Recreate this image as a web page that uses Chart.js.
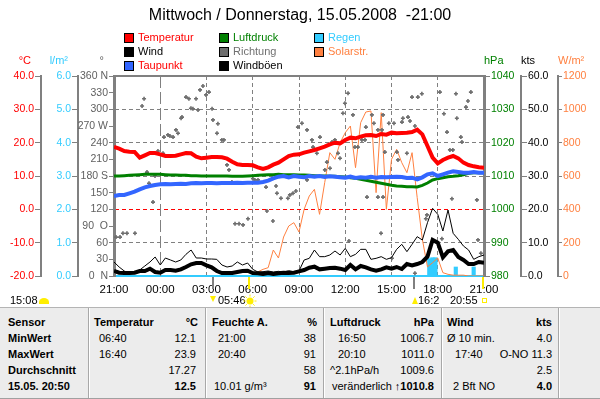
<!DOCTYPE html>
<html>
<head>
<meta charset="utf-8">
<title>Wetter 15.05.2008</title>
<script src="https://cdn.jsdelivr.net/npm/chart.js@4.4.1/dist/chart.umd.min.js"></script>
<style>
  body { margin: 0; background: #fff; }
  #chartBox { width: 600px; height: 307px; }
  #stats { position: relative; width: 600px; height: 92px; background: #ececec; border-top: 1px solid #b4b4b4; border-bottom: 1px solid #a0a0a0; box-sizing: border-box; font: 11px "Liberation Sans", Arial, sans-serif; color: #000; overflow: hidden; }
  #stats .sep { position: absolute; top: 0; bottom: 0; width: 1px; background: #a8a8a8; border-right: 1px solid #fff; }
  #stats span { position: absolute; line-height: 16px; white-space: nowrap; }
  #stats .b { font-weight: bold; }
</style>
</head>
<body>
<div id="chartBox"><canvas id="wx" width="600" height="307"></canvas></div>
<div id="stats"></div>
<script>
const F = '"Liberation Sans", Arial, sans-serif';
Chart.defaults.font.family = F;
Chart.defaults.font.size = 11;
Chart.defaults.color = '#000';

// values every 20 minutes, 21:00 (Wed) .. 21:00 (Thu)
const stepMin = 20;
const timeLabels = ['21:00', '00:00', '03:00', '06:00', '09:00', '12:00', '15:00', '18:00', '21:00'];
const dirLabels = ['0  N', '30', '60', '90  O', '120', '150', '180 S', '210', '240', '270 W', '300', '330', '360 N'];

const tempC = [18.7, 18.2, 17.5, 17.3, 17.2, 15.5, 16.2, 16.9, 16.9, 16.5,
  16.0, 16.0, 16.1, 16.5, 16.9, 16.8, 15.8, 15.3, 15.5, 15.7,
  15.7, 15.6, 15.2, 14.3, 13.5, 13.3, 13.3, 13.2, 12.6, 12.1,
  12.6, 13.4, 14.0, 15.0, 16.0, 16.4, 16.5, 17.0, 17.4, 17.8,
  18.3, 18.8, 19.5, 20.0, 19.8, 20.8, 21.5, 21.3, 21.8, 22.2,
  22.3, 22.0, 22.6, 22.4, 23.0, 22.8, 22.9, 23.0, 23.2, 23.9,
  22.5, 19.0, 15.5, 13.8, 14.8, 15.5, 16.0, 15.3, 14.0, 13.3,
  12.9, 12.6, 12.5];

const dewC = [4.0, 4.3, 4.3, 4.8, 5.3, 6.0, 6.6, 7.0, 7.3, 7.5,
  7.6, 7.5, 7.6, 7.7, 7.6, 7.8, 7.9, 7.8, 7.9, 7.9,
  7.8, 7.9, 7.9, 7.9, 8.0, 7.9, 8.0, 8.0, 8.0, 8.2,
  8.6, 9.3, 9.8, 10.0, 9.6, 10.0, 9.8, 9.6, 10.0, 9.8,
  10.0, 9.7, 9.9, 9.8, 9.6, 9.5, 9.8, 9.4, 9.6, 9.5,
  9.8, 9.5, 9.7, 9.6, 9.7, 9.8, 9.7, 9.4, 9.5, 9.0,
  9.6, 10.5, 10.8, 10.0, 10.5, 11.0, 11.4, 11.2, 11.0, 11.0,
  11.2, 11.0, 11.0];

const pressHpa = [1010.0, 1010.0, 1010.1, 1010.2, 1010.3, 1010.4, 1010.5, 1010.5, 1010.5, 1010.5,
  1010.4, 1010.3, 1010.3, 1010.2, 1010.2, 1010.1, 1010.1, 1010.0, 1010.0, 1010.0,
  1010.0, 1010.0, 1010.0, 1009.9, 1009.9, 1009.9, 1010.0, 1010.1, 1010.2, 1010.3,
  1010.4, 1010.4, 1010.5, 1010.4, 1010.4, 1010.4, 1010.3, 1010.3, 1010.2, 1010.1,
  1010.0, 1010.0, 1009.9, 1009.9, 1009.8, 1009.7, 1009.5, 1009.3, 1009.0, 1008.7,
  1008.4, 1008.1, 1007.8, 1007.5, 1007.2, 1007.0, 1006.9, 1006.8, 1006.8, 1006.7,
  1007.2, 1007.9, 1008.8, 1009.2, 1009.5, 1009.8, 1009.9, 1010.1, 1010.4, 1010.8,
  1011.0, 1011.0, 1011.0];

const windKts = [1.5, 1.0, 0.9, 0.9, 1.0, 1.5, 1.5, 2.2, 1.2, 1.0,
  1.8, 1.8, 1.6, 2.0, 2.7, 3.5, 3.9, 3.9, 3.2, 2.6,
  1.5, 0.9, 0.9, 0.9, 1.2, 1.5, 1.6, 0.9, 0.8, 0.6,
  0.9, 0.6, 0.8, 1.0, 0.9, 1.0, 1.4, 1.8, 2.5, 2.8,
  2.0, 2.2, 2.4, 2.5, 2.2, 1.8, 3.3, 2.0, 3.0, 2.6,
  2.0, 1.6, 2.0, 2.6, 2.2, 2.7, 2.1, 3.6, 3.2, 3.6,
  4.2, 5.8, 10.8, 10.0, 5.6, 7.4, 7.8, 5.7, 4.8, 3.6,
  3.6, 4.2, 4.0];

const gustKts = [4.2, 2.7, 1.5, 0.9, 0.9, 1.8, 3.0, 4.2, 5.7, 3.3,
  5.4, 4.8, 4.2, 4.8, 6.5, 7.8, 5.4, 5.4, 5.1, 5.1,
  5.0, 3.3, 2.7, 3.0, 4.2, 3.3, 3.9, 2.0, 1.2, 1.3,
  1.5, 1.2, 1.4, 1.2, 1.6, 1.3, 1.5, 4.8, 5.3, 7.8,
  5.8, 5.8, 6.3, 7.5, 6.3, 8.3, 5.8, 6.5, 8.0, 8.0,
  5.0, 5.3, 5.8, 5.0, 5.5, 8.0, 9.5, 7.3, 9.5, 11.8,
  10.8, 16.0, 20.3, 18.5, 13.5, 19.8, 12.8, 11.0, 9.0, 7.8,
  5.0, 5.8, 6.3];

const solarWm2 = [null, null, null, null, null, null, null, null, null, null,
  null, null, null, null, null, null, null, null, null, null,
  null, null, null, null, null, null, null, 10, 25, 40,
  50, 156, 108, 234, 300, 320, 264, 400, 480, 520,
  370, 560, 740, 700, 800, 860, 900, 650, 920, 984,
  990, 500, 980, 400, 700, 760, 680, 620, 740, 470,
  220, 55, 80, 108, 20, 10, 5, 5, 5, 0,
  0, 0, 0];

const rainHours = [20.45, 20.65, 20.85, 22.17, 23.33];
const rainLm2 = [0.52, 0.55, 0.55, 0.27, 0.27];

const dirHours = [0.13, 0.39, 0.58, 0.84, 1.36, 1.82, 1.95, 2.14, 2.27, 2.53,
  2.66, 2.85, 3.18, 3.24, 3.50, 3.63, 3.83, 4.02, 4.15, 4.35,
  4.41, 4.67, 4.86, 5.32, 4.99, 5.12, 5.45, 5.58, 5.77, 5.97,
  6.16, 6.36, 6.42, 6.74, 6.68, 7.00, 7.13, 7.33, 7.46, 7.65,
  7.85, 8.11, 8.37, 8.69, 9.01, 9.14, 9.34, 9.86, 9.92, 10.31,
  10.51, 10.57, 10.83, 11.28, 11.41, 11.61, 11.80, 11.93, 12.19, 12.52,
  12.52, 12.84, 12.91, 13.16, 13.36, 13.68, 13.81, 14.01, 14.14, 14.33,
  14.53, 14.66, 14.85, 14.98, 15.18, 15.24, 15.50, 15.63, 15.82, 16.08,
  16.28, 16.34, 16.41, 16.73, 16.86, 17.12, 17.12, 17.32, 17.38, 17.45,
  17.45, 17.57, 17.83, 18.03, 18.16, 18.35, 18.42, 18.68, 18.74, 19.00,
  19.07, 19.20, 19.33, 19.52, 19.52, 19.71, 19.97, 20.23, 20.30, 21.14,
  21.27, 21.40, 21.60, 21.79, 21.98, 21.92, 22.18, 22.24, 22.50, 22.57,
  22.83, 22.96, 23.15, 23.54, 23.61, 23.80];
const dirDeg = [70, 70, 77, 77, 77, 306, 319, 187, 167, 133,
  180, 225, 221, 250, 254, 252, 250, 263, 257, 284,
  286, 322, 319, 319, 302, 301, 299, 335, 342, 326,
  331, 301, 281, 274, 257, 245, 245, 200, 191, 169,
  94, 94, 92, 103, 175, 173, 173, 160, 117, 99,
  162, 149, 140, 140, 146, 149, 153, 268, 275, 263,
  173, 245, 232, 221, 250, 191, 205, 194, 241, 245,
  221, 212, 293, 311, 329, 63, 290, 232, 232, 245,
  245, 268, 142, 290, 275, 263, 142, 77, 263, 290,
  142, 223, 275, 32, 275, 223, 209, 277, 284, 221,
  286, 279, 322, 270, 5, 322, 328, 103, 110, 331,
  67, 292, 259, 227, 227, 139, 328, 284, 250, 241,
  304, 315, 331, 137, 65, 41];

// sun / moon events below the time axis
const astroMarks = [[6.43, '#808080'], [8.77, '#ffee00'], [19.45, '#808080'], [23.92, '#ffee00']];

const legendLayout = [
  ['Temperatur', 'Wind', 'Taupunkt'],
  ['Luftdruck', 'Richtung', 'Windböen'],
  ['Regen', 'Solarstr.']
];
const legendText = { 'Temperatur': '#ff0000', 'Wind': '#000000', 'Taupunkt': '#ff0000', 'Luftdruck': '#008000',
  'Richtung': '#707070', 'Windböen': '#000000', 'Regen': '#33ccff', 'Solarstr.': '#ff8040' };
const unitHeaders = { yT: ['°C', '#ff0000'], yR: ['l/m²', '#33ccff'], yD: ['°', '#606060'],
  yP: ['hPa', '#008000'], yW: ['kts', '#000000'], yS: ['W/m²', '#ff8040'] };

const series = vals => vals.map((v, i) => ({ x: i * stepMin / 60, y: v }));
const pairs = (hrs, vals) => hrs.map((h, i) => ({ x: h, y: vals[i] }));

const decor = {
  id: 'decor',
  beforeDatasetsDraw(chart) {
    const { ctx, chartArea: a, scales } = chart;
    const xm = Math.round(scales.x.getPixelForValue(3)) + 0.5;
    ctx.save();
    ctx.strokeStyle = '#808080';
    ctx.lineWidth = 1;
    ctx.setLineDash([12, 4]);
    ctx.beginPath();
    ctx.moveTo(xm, a.top);
    ctx.lineTo(xm, a.bottom);
    ctx.stroke();
    ctx.restore();
  },
  afterDraw(chart) {
    const { ctx, chartArea: a, scales } = chart;
    ctx.save();
    ctx.strokeStyle = '#808080';
    ctx.lineWidth = 2;
    ctx.beginPath();
    ctx.moveTo(a.left - 1, a.top);
    ctx.lineTo(a.right + 1, a.top);
    ctx.stroke();

    // legend, three columns
    ctx.font = '11px ' + F;
    ctx.textBaseline = 'middle';
    const colX = [124, 219, 314], rowY = [38, 52, 66];
    legendLayout.forEach((col, ci) => col.forEach((label, ri) => {
      const ds = chart.data.datasets.find(d => d.label === label);
      const x = colX[ci], y = rowY[ri];
      ctx.fillStyle = ds.borderColor;
      ctx.fillRect(x, y - 5, 10, 10);
      ctx.strokeStyle = '#000';
      ctx.lineWidth = 1;
      ctx.strokeRect(x + 0.5, y - 4.5, 9, 9);
      ctx.textAlign = 'left';
      ctx.fillStyle = legendText[label];
      ctx.fillText(label, x + 14, y);
    }));

    // units above the axes
    Object.entries(unitHeaders).forEach(([id, [txt, col]]) => {
      const s = scales[id];
      ctx.fillStyle = col;
      if (s.position === 'left') {
        ctx.textAlign = 'right';
        ctx.fillText(txt, s.right - 10, 61);
      } else {
        ctx.textAlign = 'left';
        ctx.fillText(txt, s.left, 61);
      }
    });

    // sunrise / sunset / moon marks
    astroMarks.forEach(([h, c]) => {
      const x = Math.round(scales.x.getPixelForValue(h));
      ctx.fillStyle = c;
      ctx.fillRect(x - 1, a.bottom + 1, 2, 12);
    });
    ctx.fillStyle = '#000';
    ctx.textAlign = 'left';
    ctx.fillText('15:08', 10, 301);
    ctx.fillText('05:46', 218, 301);
    ctx.fillText('16:2', 418, 301);
    ctx.fillText('20:55', 450, 301);
    ctx.fillStyle = '#ffee00';
    ctx.beginPath();
    ctx.ellipse(44, 302, 5, 4, 0, Math.PI, 0);
    ctx.fill();
    ctx.fillRect(39, 302, 10, 2);
    ctx.beginPath();
    ctx.arc(250, 301, 3.5, 0, Math.PI * 2);
    ctx.fill();
    ctx.strokeStyle = '#ffee00';
    ctx.lineWidth = 1;
    for (let k = 0; k < 8; k++) {
      const ang = k * Math.PI / 4;
      ctx.beginPath();
      ctx.moveTo(250 + Math.cos(ang) * 4.5, 301 + Math.sin(ang) * 4.5);
      ctx.lineTo(250 + Math.cos(ang) * 6.5, 301 + Math.sin(ang) * 6.5);
      ctx.stroke();
    }
    ctx.beginPath();
    ctx.moveTo(210, 296); ctx.lineTo(216, 296); ctx.lineTo(213, 302);
    ctx.fill();
    ctx.beginPath();
    ctx.moveTo(412, 304); ctx.lineTo(418, 304); ctx.lineTo(415, 297);
    ctx.fill();
    ctx.strokeRect(482.5, 298.5, 4, 4);
    ctx.restore();
  }
};

const sideAxis = (position, weight, width, min, max, step, color, fmt, tick, borderWidth) => ({
  type: 'linear', position, weight, min, max,
  afterFit: s => { s.width = width; },
  ticks: { stepSize: step, autoSkip: false, color, padding: 1, font: { size: 10.5 }, callback: fmt },
  grid: { drawOnChartArea: false, tickLength: tick, tickColor: '#808080', tickWidth: 1 },
  border: { color: '#808080', width: borderWidth }
});

new Chart(document.getElementById('wx'), {
  type: 'line',
  data: {
    datasets: [
      { label: 'Temperatur', data: series(tempC), yAxisID: 'yT', borderColor: '#ff0000', borderWidth: 4, order: 1 },
      { label: 'Taupunkt', data: series(dewC), yAxisID: 'yT', borderColor: '#3366ff', borderWidth: 4, order: 2 },
      { label: 'Wind', data: series(windKts), yAxisID: 'yW', borderColor: '#000000', borderWidth: 4, order: 3 },
      { label: 'Windböen', data: series(gustKts), yAxisID: 'yW', borderColor: '#000000', borderWidth: 1, order: 4 },
      { label: 'Luftdruck', data: series(pressHpa), yAxisID: 'yP', borderColor: '#008000', borderWidth: 3, order: 5 },
      { label: 'Richtung', type: 'scatter', data: pairs(dirHours, dirDeg), yAxisID: 'yD', borderColor: '#6e6e6e',
        backgroundColor: '#6e6e6e', pointStyle: 'cross', pointRadius: 2, borderWidth: 1.6, showLine: false, order: 6 },
      { label: 'Solarstr.', data: series(solarWm2), yAxisID: 'yS', borderColor: '#ff8040', borderWidth: 1, order: 7 },
      { label: 'Regen', type: 'bar', data: pairs(rainHours, rainLm2), yAxisID: 'yR', borderColor: '#33ccff',
        backgroundColor: '#33ccff', borderWidth: 0, barThickness: 3.5, order: 8 }
    ]
  },
  options: {
    responsive: false,
    animation: false,
    layout: { padding: { top: 0, bottom: 11, left: 0, right: 0 } },
    elements: { line: { tension: 0, fill: false }, point: { radius: 0 } },
    plugins: {
      legend: { display: false },
      tooltip: { enabled: false },
      title: {
        display: true, text: 'Mittwoch / Donnerstag, 15.05.2008  -21:00', color: '#000',
        font: { size: 16, weight: 'normal' }, padding: { top: 6, bottom: 50.8 }
      }
    },
    scales: {
      x: {
        type: 'linear', position: 'bottom', min: 0, max: 24, offset: false,
        afterFit: s => { s.height = 20; },
        ticks: { stepSize: 3, autoSkip: false, maxRotation: 0, padding: 7, color: '#000', font: { size: 11.5 },
          callback: v => timeLabels[v / 3] },
        grid: { offset: false, drawTicks: false, lineWidth: 1,
          color: c => (c.tick && [0, 3, 24].includes(c.tick.value)) ? 'rgba(0,0,0,0)' : '#808080' },
        border: { color: '#33ccff', width: 2, dash: [4, 3] }
      },
      yT: {
        type: 'linear', position: 'left', weight: 3, min: -20, max: 40,
        afterFit: s => { s.width = 41; },
        ticks: { stepSize: 10, autoSkip: false, color: '#ff0000', padding: 1, font: { size: 10.5 }, callback: v => v.toFixed(1) },
        grid: { drawOnChartArea: true, tickLength: 6, tickColor: '#808080', tickWidth: 1,
          color: c => c.tick.value === 0 ? '#ff0000' : ([40, -20].includes(c.tick.value) ? 'rgba(0,0,0,0)' : '#808080') },
        border: { color: '#808080', width: 2, dash: [4, 3] }
      },
      yR: sideAxis('left', 2, 37, 0, 6, 1, '#33ccff', v => v.toFixed(1), 6, 2),
      yD: sideAxis('left', 1, 36, 0, 360, 30, '#606060', v => dirLabels[v / 30], 5, 3),
      yP: sideAxis('right', 1, 37, 980, 1040, 10, '#008000', v => String(v), 6, 3),
      yW: sideAxis('right', 2, 37, 0, 60, 10, '#000000', v => v.toFixed(1), 6, 2),
      yS: sideAxis('right', 3, 42, 0, 1200, 200, '#ff8040', v => String(v), 4, 2)
    }
  },
  plugins: [decor]
});

// summary table under the chart: [x, text, align, bold]
const statRows = [
  [[8, 'Sensor', 'l', 1], [94, 'Temperatur', 'l', 1], [198, '°C', 'r', 1], [212, 'Feuchte A.', 'l', 1], [317, '%', 'r', 1],
   [330, 'Luftdruck', 'l', 1], [434, 'hPa', 'r', 1], [447, 'Wind', 'l', 1], [552, 'kts', 'r', 1]],
  [[8, 'MinWert', 'l', 1], [99, '06:40', 'l', 0], [196, '12.1', 'r', 0], [218, '21:00', 'l', 0], [316, '38', 'r', 0],
   [338, '16:50', 'l', 0], [434, '1006.7', 'r', 0], [447, 'Ø 10 min.', 'l', 0], [552, '4.0', 'r', 0]],
  [[8, 'MaxWert', 'l', 1], [99, '16:40', 'l', 0], [196, '23.9', 'r', 0], [218, '20:40', 'l', 0], [316, '91', 'r', 0],
   [338, '20:10', 'l', 0], [434, '1011.0', 'r', 0], [455, '17:40', 'l', 0], [552, 'O-NO 11.3', 'r', 0]],
  [[8, 'Durchschnitt', 'l', 1], [196, '17.27', 'r', 0], [316, '58', 'r', 0], [330, '^2.1hPa/h', 'l', 0],
   [434, '1009.6', 'r', 0], [552, '2.5', 'r', 0]],
  [[8, '15.05. 20:50', 'l', 1], [196, '12.5', 'r', 1], [214, '10.01 g/m³', 'l', 0], [316, '91', 'r', 1],
   [332, 'veränderlich', 'l', 0], [434, '↑1010.8', 'r', 1], [453, '2 Bft NO', 'l', 0], [552, '4.0', 'r', 1]]
];
const statSeps = [88, 205, 323, 441, 558];

const stats = document.getElementById('stats');
statSeps.forEach(x => {
  const d = document.createElement('div');
  d.className = 'sep';
  d.style.left = x + 'px';
  stats.appendChild(d);
});
statRows.forEach((row, r) => row.forEach(([x, txt, al, b]) => {
  const s = document.createElement('span');
  s.textContent = txt;
  if (b) s.className = 'b';
  s.style.top = (6 + r * 16) + 'px';
  if (al === 'l') s.style.left = x + 'px';
  else s.style.right = (600 - x) + 'px';
  stats.appendChild(s);
}));
</script>
</body>
</html>
